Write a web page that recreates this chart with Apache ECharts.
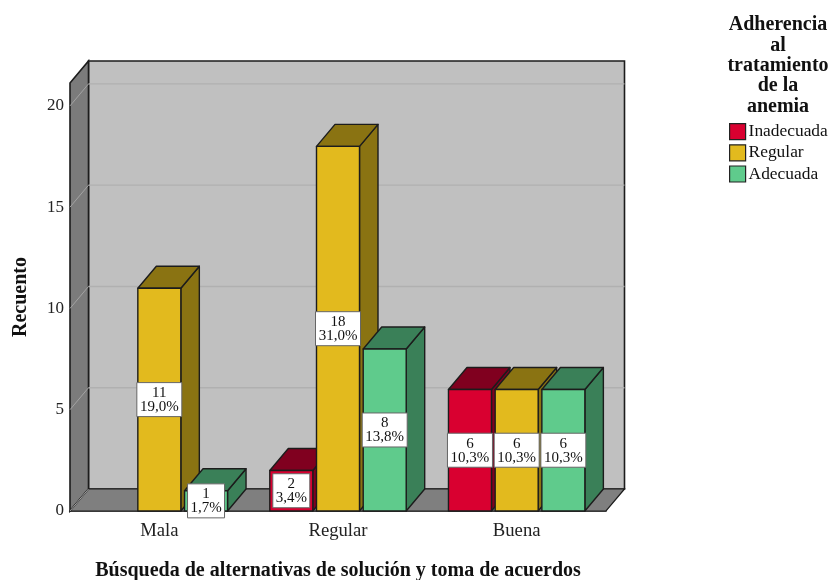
<!DOCTYPE html>
<html>
<head>
<meta charset="utf-8">
<style>html,body{margin:0;padding:0;background:#fff}#c{width:831px;height:580px}</style>
<script src="https://cdn.jsdelivr.net/npm/echarts@6/dist/echarts.min.js"></script>
</head>
<body>
<div id="c"></div>
<script>
const categories = ['Mala', 'Regular', 'Buena'];
const inadecuada = [null, 2, 6];
const regular = [11, 18, 6];
const adecuada = [1, 8, 6];
const inadecuadaPct = ['', '3,4%', '10,3%'];
const regularPct = ['19,0%', '31,0%', '10,3%'];
const adecuadaPct = ['1,7%', '13,8%', '10,3%'];
const yTicks = [0, 5, 10, 15, 20];

const SERIF = '"Liberation Serif"';
const LABEL_FONT = '15px "Liberation Serif"';
const DEPTH_X = 18.5, DEPTH_Y = 22;       // oblique offset of the chart's depth
const BAR_W = 43, BAR_STEP = 46.7;
const OUTLINE = '#1c1c1c';

// Back wall, left wall and floor, with the gridlines that run across them.
function renderWalls(params, api) {
  const r = params.coordSys;
  const l = r.x, t = r.y, b = r.y + r.height, rt = r.x + r.width;
  const line = { stroke: OUTLINE, lineWidth: 1.6 };
  const children = [
    { type: 'polygon', shape: { points: [[l + DEPTH_X, t - DEPTH_Y], [rt + DEPTH_X, t - DEPTH_Y], [rt + DEPTH_X, b - DEPTH_Y], [l + DEPTH_X, b - DEPTH_Y]] },
      style: { fill: '#c0c0c0', ...line } },
    { type: 'polygon', shape: { points: [[l, t], [l + DEPTH_X, t - DEPTH_Y], [l + DEPTH_X, b - DEPTH_Y], [l, b]] },
      style: { fill: '#7b7b7b', ...line } },
    { type: 'polygon', shape: { points: [[l, b], [l + DEPTH_X, b - DEPTH_Y], [rt + DEPTH_X, b - DEPTH_Y], [rt, b]] },
      style: { fill: '#7f7f7f', stroke: OUTLINE, lineWidth: 1.2 } }
  ];
  yTicks.forEach(v => {
    const y = api.coord([0, v])[1];
    children.push({ type: 'line', shape: { x1: l, y1: y, x2: l + DEPTH_X, y2: y - DEPTH_Y }, style: { stroke: '#a3a3a3', lineWidth: 1 } });
    if (v > 0) {
      children.push({ type: 'line', shape: { x1: l + DEPTH_X, y1: y - DEPTH_Y, x2: rt + DEPTH_X, y2: y - DEPTH_Y }, style: { stroke: '#b0b0b0', lineWidth: 1.4 } });
    }
  });
  return { type: 'group', children };
}

// One oblique bar: side, top and front faces plus its white value box.
function barRenderer(slot, front, dark, pct) {
  return function (params, api) {
    const v = api.value(1);
    if (v == null || isNaN(v)) return null;
    const c = api.coord([api.value(0), v]);
    const base = api.coord([api.value(0), 0]);
    const x0 = c[0] + slot * BAR_STEP - BAR_W / 2, x1 = x0 + BAR_W;
    const yt = c[1], yb = base[1];
    const edge = { stroke: OUTLINE, lineWidth: 1.4, lineJoin: 'round' };
    const text = pct[params.dataIndex];
    const boxW = text.length > 4 ? 45 : 37, boxH = 34;
    const cx = (x0 + x1) / 2, cy = (yt + yb) / 2;
    return {
      type: 'group',
      children: [
        { type: 'polygon', shape: { points: [[x1, yt], [x1 + DEPTH_X, yt - DEPTH_Y], [x1 + DEPTH_X, yb - DEPTH_Y], [x1, yb]] }, style: { fill: dark, ...edge } },
        { type: 'polygon', shape: { points: [[x0, yt], [x0 + DEPTH_X, yt - DEPTH_Y], [x1 + DEPTH_X, yt - DEPTH_Y], [x1, yt]] }, style: { fill: dark, ...edge } },
        { type: 'rect', shape: { x: x0, y: yt, width: BAR_W, height: yb - yt }, style: { fill: front, ...edge } },
        { type: 'rect', z2: 10, shape: { x: cx - boxW / 2, y: cy - boxH / 2, width: boxW, height: boxH }, style: { fill: '#fff', stroke: '#666', lineWidth: 1 } },
        { type: 'text', z2: 11, style: { x: cx, y: cy + 0.5, text: v + '\n' + text, font: LABEL_FONT, lineHeight: 14, fill: '#111', align: 'center', verticalAlign: 'middle' } }
      ]
    };
  };
}

function barSeries(name, values, slot, front, dark, pct) {
  return {
    name, type: 'custom', z: 3,
    itemStyle: { color: front },
    encode: { x: 0, y: 1 },
    data: values.map((v, i) => [i, v]),
    renderItem: barRenderer(slot, front, dark, pct)
  };
}

const chart = echarts.init(document.getElementById('c'), null, { renderer: 'canvas' });
chart.setOption({
  animation: false,
  backgroundColor: '#fff',
  title: {
    text: 'Adherencia\nal\ntratamiento\nde la\nanemia',
    left: 778, top: 15, padding: 0, textAlign: 'center',
    textStyle: { fontFamily: SERIF, fontWeight: 'bold', fontSize: 20, lineHeight: 20.3, color: '#111', align: 'center' }
  },
  legend: {
    orient: 'vertical', left: 729, top: 123, padding: 0,
    itemWidth: 16, itemHeight: 16, itemGap: 4, icon: 'rect',
    selectedMode: false,
    data: ['Inadecuada', 'Regular', 'Adecuada'],
    itemStyle: { borderColor: '#222', borderWidth: 1.2 },
    textStyle: { fontFamily: SERIF, fontSize: 17.4, color: '#111', padding: [0, 0, 0, -2] }
  },
  grid: { left: 70, top: 83, width: 536, height: 428, containLabel: false, outerBoundsMode: 'none' },
  xAxis: {
    type: 'category', data: categories,
    name: 'Búsqueda de alternativas de solución y toma de acuerdos',
    nameLocation: 'middle', nameGap: 50,
    nameTextStyle: { fontFamily: SERIF, fontWeight: 'bold', fontSize: 20, color: '#111' },
    axisLine: { show: true, lineStyle: { color: OUTLINE, width: 1.6 } },
    axisTick: { show: false },
    axisLabel: { fontFamily: SERIF, fontSize: 18.7, color: '#222', margin: 11 }
  },
  yAxis: {
    type: 'value', min: 0, max: 21.13, interval: 5,
    name: 'Recuento',
    nameLocation: 'middle', nameGap: 39,
    nameTextStyle: { fontFamily: SERIF, fontWeight: 'bold', fontSize: 20, color: '#111' },
    axisLine: { show: false }, axisTick: { show: false }, splitLine: { show: false },
    axisLabel: { fontFamily: SERIF, fontSize: 17, color: '#222', margin: 6, padding: [2, 0, 0, 0], showMaxLabel: false }
  },
  series: [
    { type: 'custom', z: 1, silent: true, data: [[0, 0]], encode: { x: 0, y: 1 }, renderItem: renderWalls, tooltip: { show: false } },
    barSeries('Inadecuada', inadecuada, -1, '#d90030', '#80001f', inadecuadaPct),
    barSeries('Regular', regular, 0, '#e2ba1e', '#8a7312', regularPct),
    barSeries('Adecuada', adecuada, 1, '#5fcb8c', '#3a8058', adecuadaPct)
  ]
});
</script>
</body>
</html>
